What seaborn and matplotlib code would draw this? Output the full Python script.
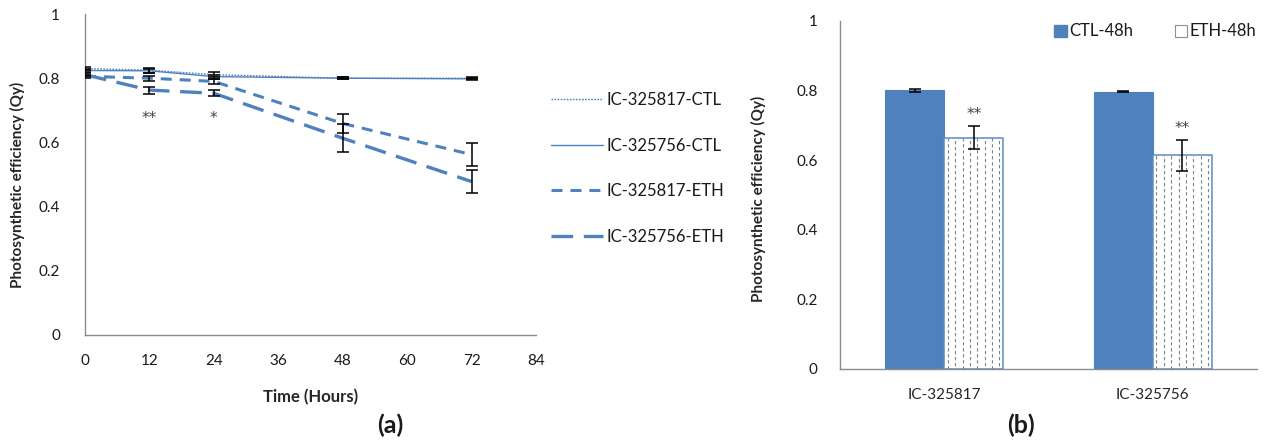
import numpy as np
import pandas as pd
import matplotlib
matplotlib.use("Agg")
import matplotlib.pyplot as plt
from matplotlib.lines import Line2D
from matplotlib.patches import Patch
import seaborn as sns

# ---- time course (panel a) ----
time_h = [0, 12, 24, 48, 72]
ctl_817 = [0.830, 0.825, 0.811, 0.800, 0.800]
ctl_756 = [0.824, 0.823, 0.805, 0.800, 0.798]
eth_817 = [0.806, 0.800, 0.790, 0.659, 0.562]
eth_756 = [0.811, 0.763, 0.753, 0.613, 0.478]
ctl_817_err = [0.004, 0.008, 0.007, 0.003, 0.003]
ctl_756_err = [0.004, 0.006, 0.006, 0.003, 0.003]
eth_817_err = [0.004, 0.008, 0.008, 0.031, 0.035]
eth_756_err = [0.004, 0.011, 0.010, 0.044, 0.035]
series_names = ["IC-325817-CTL", "IC-325756-CTL", "IC-325817-ETH", "IC-325756-ETH"]
signif_a = {12: "**", 24: "*"}
signif_a_level = 0.69

# ---- 48 h comparison (panel b) ----
genotypes = ["IC-325817", "IC-325756"]
conditions = ["CTL-48h", "ETH-48h"]
ctl48 = [0.801, 0.797]
ctl48_err = [0.004, 0.002]
eth48 = [0.665, 0.614]
eth48_err = [0.032, 0.044]
signif_b = ["**", "**"]

BLUE = "#4F81BD"
AXIS = "#8c8c8c"
STAR = "#4a4038"

sns.set_theme(style="white")
plt.rcParams["font.family"] = ["Lato", "DejaVu Sans"]
plt.rcParams["text.color"] = "#1a1a1a"

fig = plt.figure(figsize=(12.86, 4.42), dpi=100)
W, H = 1286, 442


def px_axes(l, t, r, b):
    return fig.add_axes([l / W, 1 - b / H, (r - l) / W, (b - t) / H])


def style_axes(ax):
    sns.despine(ax=ax)
    for s in ("left", "bottom"):
        ax.spines[s].set_color(AXIS)
        ax.spines[s].set_linewidth(1.0)
    ax.tick_params(axis="both", direction="out", length=5, width=1,
                   color=AXIS, labelsize=11, labelcolor="#1a1a1a")


def star_text(ax, x, y_center, mark):
    # place the asterisks so that their glyphs are centred on y_center
    ax.annotate(mark, (x, y_center), xytext=(0, -6.5), textcoords="offset points",
                ha="center", va="baseline", fontsize=11, color=STAR,
                family="DejaVu Sans", zorder=7)


# ================= panel (a) =================
ax1 = px_axes(85, 14, 536, 335)
line_specs = [
    (ctl_817, ctl_817_err, dict(lw=1.0, linestyle=(0, (1.2, 1.0)))),
    (ctl_756, ctl_756_err, dict(lw=1.0, linestyle="-")),
    (eth_817, eth_817_err, dict(lw=2.2, linestyle=(0, (3.6, 2.6)))),
    (eth_756, eth_756_err, dict(lw=2.4, linestyle=(0, (6.5, 3.2)))),
]
handles = []
for name, (vals, errs, kw) in zip(series_names, line_specs):
    sns.lineplot(x=time_h, y=vals, ax=ax1, color=BLUE, **kw)
    handles.append(Line2D([], [], color=BLUE, **kw))
for name, (vals, errs, kw) in zip(series_names, line_specs):
    ax1.errorbar(time_h, vals, yerr=errs, fmt="none", ecolor="black",
                 elinewidth=1.1, capsize=4, capthick=1.1, zorder=5)

for t, mark in signif_a.items():
    star_text(ax1, t, signif_a_level, mark)

ax1.set_xlim(0, 84)
ax1.set_ylim(0, 1)
ax1.set_xticks(np.arange(0, 85, 12))
ax1.set_yticks([0, 0.2, 0.4, 0.6, 0.8, 1.0])
ax1.set_yticklabels(["0", "0.2", "0.4", "0.6", "0.8", "1"])
style_axes(ax1)
ax1.tick_params(axis="x", pad=9)
ax1.tick_params(axis="y", pad=13)
ax1.set_xlabel("Time (Hours)", fontsize=12, fontweight="bold", labelpad=15)
ax1.set_ylabel("Photosynthetic efficiency (Qy)", fontsize=11,
               fontweight="bold")
ax1.yaxis.set_label_coords(-0.133, 0.467)

fig.legend(handles=handles, labels=series_names, loc="upper left",
           bbox_to_anchor=(551 / W, 1 - 92 / H), frameon=False,
           fontsize=12, handlelength=3.1, handletextpad=0.25,
           labelspacing=1.78, borderaxespad=0, borderpad=0)

fig.text(390 / W, 1 - 425 / H, "(a)", ha="center", va="center",
         fontsize=18, fontweight="bold")

# ================= panel (b) =================
ax2 = px_axes(840, 21, 1257, 369)
df_bar = pd.DataFrame({
    "genotype": genotypes * 2,
    "condition": [conditions[0]] * 2 + [conditions[1]] * 2,
    "qy": ctl48 + eth48,
})
sns.barplot(data=df_bar, x="genotype", y="qy", hue="condition", ax=ax2,
            palette=[BLUE, "white"], saturation=1, errorbar=None,
            width=0.565, gap=0, legend=False)

ctl_bars = ax2.containers[0]
eth_bars = ax2.containers[1]
for p in ctl_bars:
    p.set_edgecolor(BLUE)
    p.set_linewidth(0.8)
for p in eth_bars:
    p.set_facecolor("white")
    p.set_edgecolor("#5f8cbf")
    p.set_linewidth(1.1)
    # dashed vertical texture inside the bar, alternate columns staggered
    x0, w, h = p.get_x(), p.get_width(), p.get_height()
    n = 8
    for k in range(n):
        xx = x0 + w * (k + 0.5) / n
        ln, = ax2.plot([xx, xx], [0, h], color="#7d848c", lw=0.8,
                       linestyle=(2.5 * (k % 2), (3.0, 2.4)),
                       zorder=p.get_zorder() + 0.1)
        ln.set_clip_path(p)

ctl_x = [p.get_x() + p.get_width() / 2 for p in ctl_bars]
eth_x = [p.get_x() + p.get_width() / 2 for p in eth_bars]
ax2.errorbar(ctl_x, ctl48, yerr=ctl48_err, fmt="none", ecolor="black",
             elinewidth=1.1, capsize=4, capthick=1.1, zorder=6)
ax2.errorbar(eth_x, eth48, yerr=eth48_err, fmt="none", ecolor="black",
             elinewidth=1.1, capsize=4, capthick=1.1, zorder=6)
for x, v, e, mark in zip(eth_x, eth48, eth48_err, signif_b):
    star_text(ax2, x, v + e + 0.046, mark)

ax2.set_xlim(-0.5, 1.5)
ax2.set_ylim(0, 1)
ax2.set_yticks([0, 0.2, 0.4, 0.6, 0.8, 1.0])
ax2.set_yticklabels(["0", "0.2", "0.4", "0.6", "0.8", "1"])
style_axes(ax2)
ax2.tick_params(axis="y", pad=11)
ax2.set_xticks([-0.5, 0.5, 1.5])
ax2.set_xticklabels([])
ax2.set_xticks([0, 1], labels=genotypes, minor=True)
ax2.tick_params(axis="x", which="minor", length=0, labelsize=11, pad=14)
ax2.set_xlabel("")
ax2.set_ylabel("Photosynthetic efficiency (Qy)", fontsize=11,
               fontweight="bold")
ax2.yaxis.set_label_coords(-0.178, 0.49)

bar_handles = [
    Patch(facecolor=BLUE, edgecolor=BLUE),
    Patch(facecolor="white", edgecolor="#8a9097", linewidth=0.8),
]
ax2.legend(handles=bar_handles, labels=conditions, loc="upper right",
           bbox_to_anchor=(1.015, 1.012), ncol=2, frameon=False, fontsize=12,
           handlelength=0.75, handleheight=0.75, handletextpad=0.15,
           columnspacing=2.5, borderaxespad=0)

fig.text(1021 / W, 1 - 425 / H, "(b)", ha="center", va="center",
         fontsize=18, fontweight="bold")

fig.savefig("out.png", dpi=100, facecolor="white")
